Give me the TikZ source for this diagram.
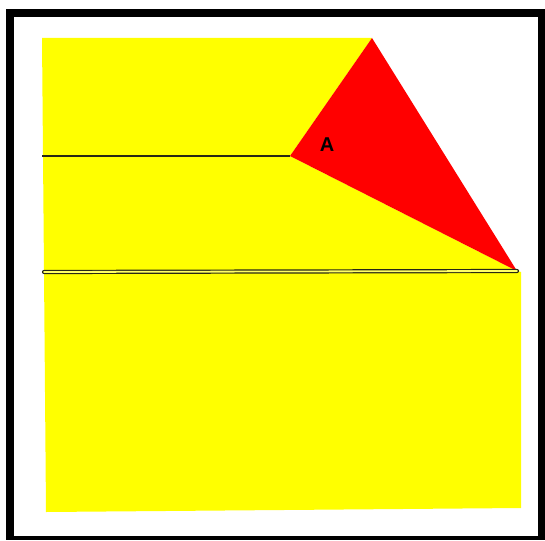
\documentclass[tikz,border=0pt]{standalone}
\usepackage{fontspec}
\setsansfont{Liberation Sans}
\definecolor{yel}{RGB}{255,255,0}
\definecolor{rd}{RGB}{255,0,0}
\definecolor{ln}{RGB}{40,40,20}
\begin{document}
\begin{tikzpicture}[x=1pt,y=-1pt,
  edgeline/.style={draw=ln, line width=1.4pt},
  dbline/.style={draw=ln, line width=1.2pt, double=yel!60!white, double distance=1.8pt}]
\useasboundingbox (0,0) rectangle (545,540);
% frame
\fill[black] (6,9) rectangle (545,540);
\fill[white] (14,17) rectangle (538,536);
% points
\coordinate (TL) at (42,38);
\coordinate (T) at (372,38);
\coordinate (M) at (290,156);
\coordinate (R) at (517,271);
\coordinate (L1) at (42,156);
\coordinate (L2) at (44,272);
\coordinate (R2) at (521,272);
\coordinate (BR) at (521,508);
\coordinate (BL) at (46,512);
% yellow areas
\fill[yel] (TL) -- (T) -- (M) -- (R) -- (R2) -- (BR) -- (BL) -- (L2) -- cycle;
% red triangle
\fill[rd] (T) -- (M) -- (R) -- cycle;
% lines
\draw[edgeline] (L1) -- (M);
\draw[dbline, line cap=round] (L2) -- (R);
\node[font=\sffamily\bfseries\fontsize{20}{20}\selectfont, text=black] (A) at (327,145) {A};
\end{tikzpicture}
\end{document}
